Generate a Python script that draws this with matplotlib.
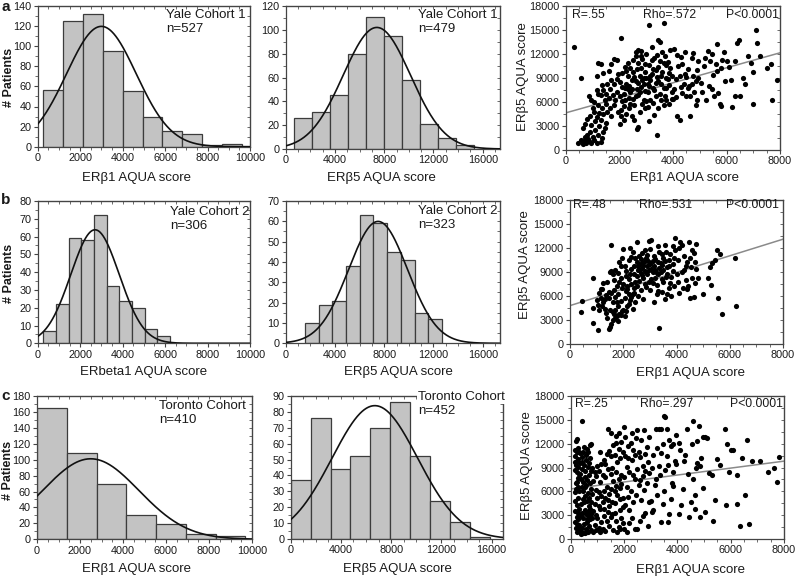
import numpy as np
import matplotlib
matplotlib.use('Agg')
import matplotlib.pyplot as plt
from matplotlib.ticker import MultipleLocator

plt.rcParams['font.family'] = ['Liberation Sans', 'DejaVu Sans']

# ---- histogram data (counts per bin, first bin edge, bin width, normal fit) ----
a1_counts = [56, 125, 132, 95, 55, 30, 16, 13, 2, 3]
a1_start, a1_width, a1_mu, a1_sd, a1_n = 270, 934, 3000, 1640, 527
a2_counts = [26, 31, 45, 80, 111, 95, 58, 21, 9, 3]
a2_start, a2_width, a2_mu, a2_sd, a2_n = 675, 1460, 7400, 2735, 479
b1_counts = [7, 22, 59, 58, 72, 32, 24, 20, 8, 4]
b1_start, b1_width, b1_mu, b1_sd, b1_n = 270, 596, 2700, 1140, 306
b2_counts = [10, 19, 21, 38, 63, 59, 45, 41, 15, 12]
b2_start, b2_width, b2_mu, b2_sd, b2_n = 1565, 1112, 7500, 2390, 323
c1_counts = [165, 108, 69, 31, 19, 7, 4]
c1_start, c1_width, c1_mu, c1_sd, c1_n = 0, 1385, 2500, 2240, 410
c2_counts = [37, 76, 44, 52, 70, 86, 52, 24, 11, 1]
c2_start, c2_width, c2_mu, c2_sd, c2_n = 0, 1587, 6700, 3410, 452

# ---- scatter data (ERb1, ERb5) ----
a3_pts = [
    (450, 900), (550, 1300), (620, 1000), (650, 700), (700, 1600), (720, 1200), (760, 900), (800, 1900),
    (820, 1400), (870, 1100), (900, 2200), (950, 900), (1000, 1600), (1050, 1200), (1100, 2500), (1150, 900),
    (1200, 1900), (1300, 1000), (1350, 1500), (1250, 3000), (1400, 2200), (1450, 2800), (1500, 3400),
    (650, 2700), (700, 3300), (800, 3900), (900, 4300), (950, 3100), (1000, 5300), (1050, 4800), (1100, 3600),
    (1150, 4100), (1200, 5600), (1250, 4600), (1300, 3800), (1350, 5200), (1400, 4500), (1450, 6200),
    (1500, 5800), (1550, 4800), (1600, 6500), (1650, 5300), (1700, 4200), (1750, 6900), (1800, 5600),
    (1850, 6200), (1900, 7200), (1950, 4800), (850, 6800), (950, 6300), (1050, 6000), (1150, 7500),
    (1200, 7000), (1300, 6900), (1350, 8100), (1400, 7500), (1500, 7000), (1550, 8300), (1650, 7600),
    (1700, 8700), (1800, 8200), (1900, 8900), (1950, 9500), (1200, 10900), (1300, 10800), (1150, 9300),
    (1400, 9600), (1600, 9900), (1700, 10700), (1800, 11400), (1900, 11300), (550, 9000), (300, 12900),
    (2050, 14000), (2000, 3200), (2050, 5000), (2100, 6100), (2150, 7000), (2200, 7700), (2250, 8300),
    (2300, 9200), (2350, 6500), (2400, 7200), (2450, 8800), (2500, 9800), (2550, 5600), (2600, 6800),
    (2650, 7600), (2700, 8400), (2750, 9300), (2800, 10300), (2850, 11400), (2900, 6300), (2950, 7400),
    (2000, 8500), (2100, 9600), (2200, 10400), (2300, 10900), (2400, 10200), (2500, 11200), (2600, 11700),
    (2700, 10900), (2800, 11700), (2900, 9000), (2050, 4200), (2150, 3700), (2250, 4500), (2350, 5300),
    (2450, 4200), (2550, 3800), (2650, 2600), (2700, 2900), (2750, 4800), (2850, 5700), (2950, 5200),
    (2100, 7900), (2200, 6300), (2300, 7600), (2400, 5700), (2500, 6400), (2600, 8600), (2700, 6900),
    (2800, 7900), (2900, 8200), (2000, 6700), (2250, 9900), (2550, 9100), (2650, 10100), (2850, 8700),
    (2950, 9800), (2150, 5500), (2350, 8000), (2450, 7600), (2750, 7300), (2950, 10700), (2600, 12300),
    (2700, 12500), (2800, 12400), (3000, 6100), (3050, 7200), (3100, 8000), (3150, 8700), (3200, 9500),
    (3250, 10100), (3300, 7500), (3350, 8400), (3400, 9100), (3450, 10400), (3500, 7000), (3550, 8200),
    (3600, 9800), (3650, 10900), (3700, 6700), (3750, 7700), (3800, 8900), (3850, 9600), (3900, 10300),
    (3950, 7300), (3000, 9000), (3100, 10600), (3200, 11200), (3300, 11500), (3400, 11900), (3500, 11100),
    (3600, 12200), (3700, 11700), (3800, 11000), (3900, 12500), (3050, 5400), (3150, 6300), (3250, 5900),
    (3350, 6700), (3450, 5300), (3550, 6300), (3650, 5600), (3750, 6200), (3850, 5800), (3950, 6400),
    (3100, 15600), (3650, 15900), (3450, 13700), (3500, 13500), (3200, 12900), (3400, 1900), (3100, 3600),
    (3300, 4400), (3000, 12000), (3150, 9200), (3250, 7800), (3350, 10000), (3550, 9300), (3750, 9000),
    (3850, 8100), (3950, 9200), (3050, 8300), (3450, 8600), (3650, 7700), (3750, 10600), (4000, 6400),
    (4050, 7600), (4100, 8900), (4150, 4300), (4200, 10500), (4250, 3700), (4300, 11600), (4350, 7100),
    (4400, 8300), (4450, 9500), (4500, 6700), (4550, 10100), (4600, 8000), (4650, 4300), (4700, 11500),
    (4750, 9300), (4800, 7300), (4850, 8600), (4900, 10000), (4950, 11100), (4050, 12600), (4150, 11900),
    (4250, 9300), (4350, 10800), (4450, 12300), (4550, 7700), (4650, 6700), (4750, 12100), (4850, 5600),
    (4950, 9000), (4100, 6600), (4300, 7900), (4500, 9100), (4700, 8200), (4900, 6300), (5050, 8400),
    (5150, 10500), (5200, 11500), (5300, 12400), (5350, 8000), (5450, 12000), (5500, 9400), (5550, 6700),
    (5600, 10700), (5650, 13300), (5700, 7100), (5750, 5700), (5800, 10200), (5850, 11200), (5900, 12300),
    (5950, 8600), (5100, 7300), (5250, 6300), (5400, 11100), (5650, 9900), (5800, 5500), (5450, 7600),
    (6000, 11100), (6100, 10400), (6200, 5400), (6300, 6700), (6400, 13400), (6450, 13800), (6500, 6700),
    (6600, 9000), (6800, 11800), (6900, 10900), (7000, 5800), (7000, 9800), (7100, 15000), (7150, 13400),
    (7250, 11800), (7500, 10200), (7700, 6300), (7650, 10700), (7900, 8800), (6300, 11100), (6700, 8200),
    (6150, 8700),
]
b3_pts = [
    (400, 4000), (440, 5400), (850, 8300), (850, 4500), (880, 2600), (1040, 1700), (1000, 5500), (1100, 6400),
    (1150, 5800), (1200, 6900), (1250, 5200), (1300, 4400), (1350, 6100), (1400, 7800), (1450, 5700),
    (1500, 9000), (1500, 2100), (1450, 1900), (1550, 2500), (1600, 3000), (1650, 3700), (1700, 4200),
    (1750, 3500), (1800, 4800), (1850, 3800), (1900, 5400), (1950, 4100), (1550, 6400), (1600, 5200),
    (1650, 6800), (1700, 5900), (1750, 7200), (1800, 6300), (1850, 7700), (1900, 8300), (1950, 7000),
    (1550, 9100), (1600, 8700), (1700, 9300), (1800, 8900), (1900, 9800), (1300, 5600), (1200, 4700),
    (1100, 4300), (1350, 3900), (1400, 3200), (1500, 4300), (1600, 4000), (1700, 3300), (1800, 2900),
    (1900, 3600), (2000, 11900), (1530, 12400), (1950, 10800), (1850, 10200), (1250, 7600), (1150, 6900),
    (1050, 4900), (1450, 6500), (1650, 8000), (1750, 5300), (2000, 4300), (2050, 5700), (2100, 6600),
    (2150, 7300), (2200, 8100), (2250, 8800), (2300, 9400), (2350, 6200), (2400, 7000), (2450, 7800),
    (2500, 8500), (2550, 9200), (2600, 10000), (2650, 10600), (2700, 9500), (2750, 8200), (2800, 10400),
    (2850, 9000), (2900, 9700), (2950, 10200), (2000, 7500), (2100, 9100), (2200, 10500), (2300, 10900),
    (2400, 9700), (2500, 10300), (2600, 11000), (2700, 11400), (2800, 11800), (2900, 11100), (2050, 3500),
    (2150, 4700), (2250, 5500), (2350, 4400), (2450, 5200), (2550, 6000), (2650, 6700), (2750, 5600),
    (2850, 7100), (2950, 7700), (2100, 8500), (2200, 6300), (2300, 7500), (2400, 8700), (2500, 7300),
    (2600, 7900), (2700, 8600), (2800, 7500), (2900, 8700), (2500, 12800), (2550, 9800), (2650, 8900),
    (2750, 9900), (2850, 10800), (2950, 9300), (2450, 10700), (2350, 11500), (2250, 12000), (2150, 6900),
    (2050, 9800), (2950, 12900), (2700, 10100), (2600, 9300), (2800, 9100), (2900, 10500), (2400, 6400),
    (2300, 5900), (2200, 5000), (2100, 4100), (3000, 6800), (3050, 8100), (3100, 9000), (3150, 9800),
    (3200, 10600), (3250, 7400), (3300, 8700), (3350, 9500), (3400, 10100), (3450, 8100), (3500, 9200),
    (3550, 10400), (3600, 11500), (3650, 8800), (3700, 9800), (3750, 7600), (3800, 6000), (3850, 9100),
    (3900, 10700), (3950, 13200), (3000, 10000), (3100, 10400), (3200, 9200), (3300, 10300), (3400, 9000),
    (3500, 7800), (3600, 8400), (3700, 7000), (3800, 8400), (3900, 7200), (3050, 13000), (3350, 2000),
    (3580, 12400), (3150, 5300), (3250, 6200), (3450, 6500), (3550, 5600), (3650, 6300), (3350, 11500),
    (3450, 11200), (3750, 11300), (3850, 12200), (3950, 11700), (3100, 7600), (3200, 8200), (3300, 6600),
    (3500, 10800), (3700, 10500), (3000, 11900), (3150, 11000), (3300, 12300), (3050, 9400), (3250, 8900),
    (3450, 9900), (3650, 9600), (3850, 10000), (4000, 8700), (4050, 10500), (4100, 12000), (4140, 12800),
    (4200, 9000), (4250, 7000), (4300, 11000), (4350, 8000), (4400, 10200), (4450, 7200), (4480, 12700),
    (4500, 5700), (4550, 9600), (4600, 8200), (4650, 11400), (4700, 7600), (4730, 12500), (4750, 9400),
    (4800, 8300), (4990, 6300), (4100, 6400), (4300, 9300), (4500, 10800), (4700, 10300), (4200, 12400),
    (4400, 6900), (4600, 11700), (4650, 5900), (4050, 7800), (4350, 9700), (5200, 8300), (5270, 9600),
    (5330, 10100), (5300, 7400), (5520, 11700), (5640, 11300), (5540, 5800), (5710, 3700), (6210, 10700),
    (6220, 4800), (5450, 10500),
]
c3_pts = [
    (150, 2100), (200, 1400), (250, 900), (300, 1200), (180, 3500), (220, 2800), (260, 3300), (290, 2500),
    (150, 5900), (200, 6300), (240, 7200), (280, 7700), (160, 8700), (210, 9300), (250, 9800), (290, 9100),
    (170, 10400), (230, 11000), (270, 11400), (300, 10900), (200, 12300), (250, 12600), (410, 14800),
    (180, 4800), (230, 4300), (270, 5200), (310, 3800), (190, 7000), (240, 8400), (300, 8200), (160, 11200),
    (280, 6600), (320, 6100), (340, 9600), (360, 10800), (150, 9700), (260, 10100), (220, 1900), (330, 1700),
    (350, 1000), (380, 600), (420, 1400), (460, 800), (500, 1900), (540, 700), (580, 1300), (620, 2200),
    (660, 900), (700, 1600), (740, 2500), (780, 1100), (400, 2900), (440, 3300), (480, 2700), (520, 3600),
    (560, 3100), (600, 2500), (640, 3400), (680, 2900), (720, 3800), (760, 3200), (800, 2600), (400, 4400),
    (450, 5000), (500, 4600), (550, 5400), (600, 4800), (650, 5800), (700, 5200), (750, 6300), (800, 5700),
    (420, 6600), (470, 7200), (520, 7800), (570, 6800), (620, 7400), (670, 8100), (720, 7100), (770, 8600),
    (440, 8800), (490, 9300), (540, 8600), (590, 9900), (640, 9100), (690, 9600), (740, 10200), (410, 10300),
    (460, 11000), (510, 11600), (560, 10600), (610, 11300), (660, 10900), (710, 11800), (760, 12000),
    (480, 6100), (530, 6500), (700, 4100), (760, 4600), (350, 8200), (380, 7600), (420, 9700), (790, 9000),
    (850, 900), (900, 1800), (950, 1100), (1000, 2600), (1050, 1400), (1100, 900), (1150, 2100), (1200, 1300),
    (1250, 2900), (1300, 1000), (1350, 2300), (1400, 3400), (1450, 1600), (1500, 2800), (1550, 3200),
    (1600, 1100), (1650, 3300), (1700, 2300), (1750, 900), (1800, 1500), (1850, 3700), (1900, 2700),
    (1950, 4000), (850, 3500), (900, 4400), (950, 3000), (1000, 5100), (1050, 4200), (1100, 3800),
    (1150, 5400), (1200, 4700), (1250, 6100), (1300, 5200), (1350, 6600), (1400, 4900), (1450, 5700),
    (1500, 6300), (1550, 4600), (1600, 7300), (1650, 6000), (1700, 6700), (1750, 5500), (1800, 7500),
    (1850, 6400), (1900, 6900), (1950, 5100), (850, 7300), (900, 8400), (950, 7900), (1000, 9200),
    (1050, 8600), (1100, 10900), (1150, 9400), (1200, 8100), (1250, 10000), (1300, 9500), (1350, 10700),
    (1400, 8800), (1450, 11100), (1500, 10400), (1550, 9000), (1600, 11800), (1650, 10600), (1700, 12100),
    (1750, 9700), (1800, 11300), (1850, 10200), (1900, 12200), (1950, 10900), (1400, 13800), (1500, 13300),
    (1700, 13000), (1800, 13300), (2000, 14100), (1100, 7200), (1300, 7800), (1500, 8200), (1700, 8400),
    (1900, 8000), (950, 6200), (1050, 5900), (1250, 3800), (1450, 4100), (1650, 4500), (1850, 5000),
    (1950, 2000), (1850, 1300), (2000, 1300), (2100, 900), (2200, 2000), (2300, 2600), (2400, 1300),
    (2500, 1200), (2600, 2300), (2700, 2900), (2800, 3300), (2900, 1600), (2050, 4300), (2150, 5300),
    (2250, 6000), (2350, 4700), (2450, 5600), (2550, 6800), (2650, 4900), (2750, 6200), (2850, 7100),
    (2950, 4700), (2000, 7800), (2100, 9100), (2200, 8400), (2300, 9900), (2400, 7600), (2500, 8800),
    (2600, 10300), (2700, 9200), (2800, 8600), (2900, 9700), (2050, 10500), (2150, 11700), (2250, 12100),
    (2350, 11200), (2450, 12700), (2550, 11000), (2650, 12400), (2750, 13700), (2850, 11600), (2950, 12900),
    (2300, 13300), (2500, 13700), (2100, 6600), (2200, 3600), (2400, 10600), (2600, 7400), (2800, 10700),
    (2950, 8300), (2050, 12800), (2700, 7900), (2350, 8100), (2150, 10200), (3000, 4800), (3050, 3400),
    (3100, 3600), (3150, 6800), (3250, 5500), (3300, 9200), (3350, 8100), (3400, 13900), (3450, 11900),
    (3500, 15500), (3550, 15300), (3600, 10400), (3650, 9300), (3700, 3100), (3750, 5000), (3800, 7100),
    (3850, 12000), (3900, 9800), (3950, 13100), (3200, 13900), (3300, 13900), (3600, 13800), (3400, 2200),
    (3500, 6000), (3100, 10600), (3250, 11400), (3550, 8700), (3750, 11700), (3850, 6700), (3950, 9500),
    (3650, 2100), (3050, 9000), (3200, 7600), (3450, 4400), (3700, 12400), (3850, 8400), (3400, 10800),
    (4050, 3100), (4150, 4300), (4250, 9800), (4350, 13800), (4450, 2800), (4500, 4600), (4575, 14850),
    (4600, 7500), (4650, 3800), (4700, 8900), (4750, 12300), (4825, 14200), (4850, 2800), (4900, 10200),
    (4950, 6400), (4100, 11200), (4200, 6300), (4300, 10600), (4400, 8200), (4550, 11900), (4750, 9600),
    (4950, 12800), (4050, 12100), (4650, 5500), (4850, 9200), (5040, 12900), (5100, 12700), (5040, 3400),
    (5200, 8300), (5350, 2300), (5410, 4900), (5500, 10100), (5790, 13900), (5850, 12000), (6000, 11200),
    (6100, 11200), (5825, 4300), (6250, 4400), (5950, 8400), (6240, 8100), (6410, 10200), (6350, 1600),
    (6540, 5500), (6600, 12500), (6700, 1900), (6810, 9800), (7100, 9800), (7410, 8400), (7625, 9000),
    (7825, 10300), (7750, 7200), (5600, 9300), (5300, 8000),
]
# regression line: ERb5 at ERb1 = 0 and ERb1 = 8000
a3_line = [4650, 12150]
b3_line = [4800, 13100]
c3_line = [6300, 9800]
a3_stats = ['R=.55', 'Rho=.572', 'P<0.0001']
b3_stats = ['R=.48', 'Rho=.531', 'P<0.0001']
c3_stats = ['R=.25', 'Rho=.297', 'P<0.0001']

W, H = 800, 579
fig = plt.figure(figsize=(8, 5.79), dpi=100)
TXT = '#1a1a1a'


def box(l, t, r, b):
    return [l / W, 1 - b / H, (r - l) / W, (b - t) / H]


def ftext(x, y, s, **kw):
    kw.setdefault('color', TXT)
    return fig.text(x / W, 1 - y / H, s, **kw)


def style(ax, xmaj, xmin_, ymaj, ymin_):
    ax.xaxis.set_major_locator(MultipleLocator(xmaj))
    ax.xaxis.set_minor_locator(MultipleLocator(xmin_))
    ax.yaxis.set_major_locator(MultipleLocator(ymaj))
    ax.yaxis.set_minor_locator(MultipleLocator(ymin_))
    ax.tick_params(which='major', direction='out', length=3, width=0.8, labelsize=7.8,
                   colors='#444', labelcolor=TXT, pad=1.5)
    ax.tick_params(which='minor', direction='out', length=2, width=0.6, colors='#555')
    for s in ax.spines.values():
        s.set_linewidth(0.9)
        s.set_color('#444')
    top = ax.secondary_xaxis('top')
    top.xaxis.set_major_locator(MultipleLocator(xmin_))
    top.tick_params(direction='in', length=2, width=0.6, colors='#555', labeltop=False)
    right = ax.secondary_yaxis('right')
    right.yaxis.set_major_locator(MultipleLocator(ymin_))
    right.tick_params(direction='in', length=2, width=0.6, colors='#555', labelright=False)


def hist_panel(pos, counts, start, width, n, mu, sd, xmax, ymax, xmaj, xmin_, ymaj, ymin_):
    ax = fig.add_axes(box(*pos))
    left = start + width * np.arange(len(counts))
    ax.bar(left, counts, width=width, align='edge', color='#c3c3c3',
           edgecolor='#3c3c3c', linewidth=0.9, zorder=2)
    xs = np.linspace(0, xmax, 400)
    ys = n * width / (sd * np.sqrt(2 * np.pi)) * np.exp(-(xs - mu) ** 2 / (2 * sd ** 2))
    ax.plot(xs, ys, color='#111111', lw=1.2, zorder=3)
    ax.set_xlim(0, xmax)
    ax.set_ylim(0, ymax)
    style(ax, xmaj, xmin_, ymaj, ymin_)
    return ax


def scatter_panel(pos, pts, line):
    ax = fig.add_axes(box(*pos))
    x, y = zip(*pts)
    ax.scatter(x, y, s=14, c='black', linewidths=0, zorder=3)
    ax.plot([0, 8000], line, color='#8a8a8a', lw=1.1, zorder=2)
    ax.set_xlim(0, 8000)
    ax.set_ylim(0, 18000)
    style(ax, 2000, 500, 3000, 1500)
    return ax


# row a
hist_panel((37.7, 6, 250, 146.7), a1_counts, a1_start, a1_width, a1_n, a1_mu, a1_sd,
           10000, 140, 2000, 500, 20, 10)
hist_panel((285.7, 6, 500, 149), a2_counts, a2_start, a2_width, a2_n, a2_mu, a2_sd,
           17400, 120, 4000, 1000, 20, 10)
scatter_panel((566, 6, 780, 150), a3_pts, a3_line)
# row b
hist_panel((37.7, 201, 250, 343.3), b1_counts, b1_start, b1_width, b1_n, b1_mu, b1_sd,
           10000, 80, 2000, 500, 10, 5)
hist_panel((285.7, 201, 500, 343.3), b2_counts, b2_start, b2_width, b2_n, b2_mu, b2_sd,
           17400, 70, 4000, 1000, 10, 5)
scatter_panel((570, 200, 783, 344), b3_pts, b3_line)
# row c
hist_panel((37, 396, 252, 539.3), c1_counts, c1_start, c1_width, c1_n, c1_mu, c1_sd,
           10000, 180, 2000, 500, 20, 10)
hist_panel((290.7, 396, 503.3, 539), c2_counts, c2_start, c2_width, c2_n, c2_mu, c2_sd,
           16930, 90, 4000, 1000, 10, 5)
scatter_panel((570.7, 396, 784, 539), c3_pts, c3_line)

# cohort labels
for x, y, name, n in [(166, 15, 'Yale Cohort 1', a1_n), (418, 15, 'Yale Cohort 1', a2_n),
                      (170, 212, 'Yale Cohort 2', b1_n), (418, 211, 'Yale Cohort 2', b2_n),
                      (159, 406, 'Toronto Cohort', c1_n), (418, 397, 'Toronto Cohort', c2_n)]:
    t = ftext(x, y, name, fontsize=9.5, va='center')
    if y == 397:
        t.set_bbox(dict(facecolor='white', edgecolor='none', pad=0.5))
    ftext(x, y + 14, 'n=%d' % n, fontsize=9.5, va='center')

# correlation stats
for (xl, xm, xr, y), st in [((572, 643, 779, 15), a3_stats), ((573, 639, 779, 205), b3_stats),
                            ((575, 640, 783, 404), c3_stats)]:
    ftext(xl, y, st[0], fontsize=8.8, va='center')
    ftext(xm, y, st[1], fontsize=8.8, va='center')
    ftext(xr, y, st[2], fontsize=8.8, va='center', ha='right')

# axis labels
for x, y, s in [(136, 178, 'ERβ1 AQUA score'), (381, 178, 'ERβ5 AQUA score'), (685, 178, 'ERβ1 AQUA score'),
                (144, 372, 'ERbeta1 AQUA score'), (398, 372, 'ERβ5 AQUA score'), (691, 373, 'ERβ1 AQUA score'),
                (137, 569, 'ERβ1 AQUA score'), (397, 569, 'ERβ5 AQUA score'), (691, 570, 'ERβ1 AQUA score')]:
    ftext(x, y, s, fontsize=9.5, ha='center', va='center')
for x, y in [(9, 77), (9, 273), (8, 470)]:
    ftext(x, y, '# Patients', fontsize=9, fontweight='bold', rotation=90, ha='center', va='center')
for x, y in [(523, 77), (525, 265), (527, 466)]:
    ftext(x, y, 'ERβ5 AQUA score', fontsize=9.5, rotation=90, ha='center', va='center')

# panel letters
for x, y, s in [(6, 7, 'a'), (6, 200, 'b'), (6, 396, 'c')]:
    ftext(x, y, s, fontsize=11, fontweight='bold', ha='center', va='center')

fig.savefig('out.png', dpi=100)
